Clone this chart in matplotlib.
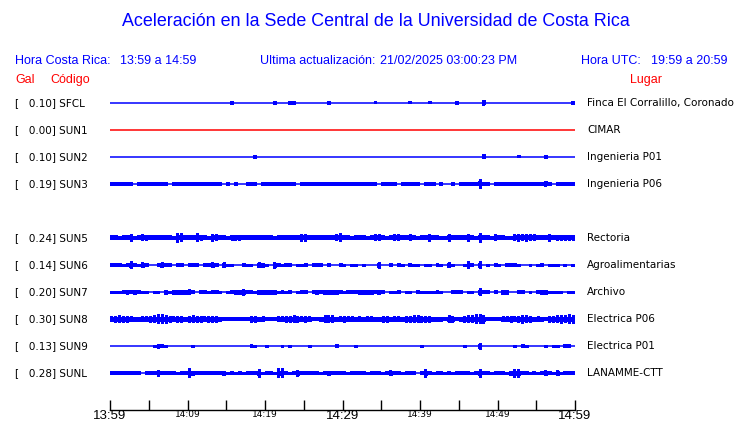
import matplotlib
matplotlib.use('Agg')
import matplotlib.pyplot as plt
import matplotlib.transforms as mtransforms
import numpy as np

# stations, one row each (SUN4 has no trace, its row stays empty)
codes = ['SFCL', 'SUN1', 'SUN2', 'SUN3', 'SUN5', 'SUN6', 'SUN7', 'SUN8', 'SUN9', 'SUNL']
rows = [0, 1, 2, 3, 5, 6, 7, 8, 9, 10]
gal = [0.10, 0.00, 0.10, 0.19, 0.24, 0.14, 0.20, 0.30, 0.13, 0.28]
places = ['Finca El Corralillo, Coronado', 'CIMAR', 'Ingenieria P01', 'Ingenieria P06',
          'Rectoria', 'Agroalimentarias', 'Archivo', 'Electrica P06', 'Electrica P01',
          'LANAMME-CTT']
trace_colors = ['blue', 'red', 'blue', 'blue', 'blue', 'blue', 'blue', 'blue', 'blue', 'blue']

# envelope of each trace: one digit per 30 s, total height in pixels
env_SFCL = ("0000000000" "0000000000" "0000000000" "0300000000" "0030003300" "0000003000"
            "0000000020" "0000000200" "0020000003" "0000005000" "0000000000" "0000000003")
env_SUN1 = ("0000000000" "0000000000" "0000000000" "0000000000" "0000000000" "0000000000"
            "0000000000" "0000000000" "0000000000" "0000000000" "0000000000" "0000000000")
env_SUN2 = ("0000000000" "0000000000" "0000000000" "0000000300" "0000000000" "0000000000"
            "0000000000" "0000000000" "0000000000" "0000004000" "0000020000" "0030000000")
env_SUN3 = ("3333330333" "3333303333" "3333333330" "3030033303" "3333333303" "3333333333"
            "3333333330" "3333033333" "0333030030" "3333393303" "3333333333" "3353033333")
env_SUN5 = ("4434473465" "4444443984" "4485437644" "3555444444" "4434444447" "7444444468"
            "4434443466" "4346644643" "4474433744" "4474394436" "4433676766" "4447455555")
env_SUN6 = ("3332373253" "0035330330" "3330335305" "2200322054" "2063233022" "3033303003"
            "2022020006" "0030320322" "0220320520" "0273070203" "2033320020" "2302220202")
env_SUN7 = ("2223434322" "0220424444" "5303323320" "2344633244" "4442323023" "3034344443"
            "2333444434" "3022302203" "2222320033" "3022073303" "0440033020" "3442222022")
env_SUN8 = ("5676654455" "6799865664" "6766566643" "3333336645" "3335566765" "6533477745"
            "6554545544" "6645546677" "6664443763" "4677998333" "3556568764" "5436678798")
env_SUN9 = ("0000000000" "0243200000" "0200000000" "0000003200" "2000202000" "0200000030"
            "0002000000" "0000000000" "2000000000" "0200060000" "0000203200" "0020220330")
env_SUNL = ("3333333303" "3363333233" "9433333334" "2323233382" "3329932363" "3333234333"
            "3233332333" "2353323330" "3832332323" "3332383323" "3324883323" "2353252333")
envelopes = [env_SFCL, env_SUN1, env_SUN2, env_SUN3, env_SUN5,
             env_SUN6, env_SUN7, env_SUN8, env_SUN9, env_SUNL]

# time axis, minutes after 13:59
tick_min = [0, 5, 10, 15, 20, 25, 30, 35, 40, 45, 50, 55, 60]
tick_labels = ['13:59', '', '14:09', '', '14:19', '', '14:29', '', '14:39', '', '14:49', '', '14:59']

W, H = 740, 423
ROW_PX = 27.0
fig = plt.figure(figsize=(W / 100, H / 100), dpi=100)


def fx(px):
    return px / W


def fy(py):
    return 1 - py / H


# trace panel: rows 0..10 are 27 px apart, first row at y=103, time axis at y=410
top_px, bot_px, row0_px = 90, 410, 103
ax = fig.add_axes([fx(110), fy(bot_px), (575 - 110) / W, (bot_px - top_px) / H])
ax.set_xlim(0, 60)
ax.set_ylim((bot_px - row0_px) / ROW_PX, (top_px - row0_px) / ROW_PX)

for r, env, c in zip(rows, envelopes, trace_colors):
    d = np.array([int(ch) for ch in env], dtype=float)
    edges = np.linspace(0, 60, len(d) + 1)
    centers = (edges[:-1] + edges[1:]) / 2
    # steady band, full bin width
    band = np.where(d > 0, np.minimum(d, 4) + 1, 0) / 2 / ROW_PX
    ax.stairs(r + band, edges, baseline=r - band, fill=True, color=c, lw=0)
    # bursts taller than the band, a bit narrower than a bin
    big = d > 4
    spike = (d[big] + 1) / 2 / ROW_PX
    ax.bar(centers[big], 2 * spike, bottom=r - spike, width=0.4, color=c, lw=0)
    ax.hlines(r, edges[0], edges[-1], color=c, lw=1.1)

for s in ['top', 'left', 'right']:
    ax.spines[s].set_visible(False)
ax.spines['bottom'].set_linewidth(1.0)
ax.set_yticks([])
ax.set_xticks(tick_min)
ax.set_xticklabels(tick_labels)
ax.tick_params(axis='x', direction='in', length=7.5, width=1.0, pad=0)
for lab in ax.get_xticklabels():
    if lab.get_text() in ('13:59', '14:29', '14:59'):
        lab.set_fontsize(9.5)
        lab.set_fontfamily('Liberation Sans')
    else:
        lab.set_fontsize(6.5)
        lab.set_fontfamily('DejaVu Sans')

# row labels, x in figure pixels, y on the trace rows
tr = mtransforms.blended_transform_factory(fig.transFigure, ax.transData)
for r, code, g, place in zip(rows, codes, gal, places):
    ax.text(fx(15), r, '[   %.2f] %s' % (g, code), transform=tr, fontsize=7.5,
            family='DejaVu Sans', va='center', ha='left', clip_on=False)
    ax.text(fx(587), r, place, transform=tr, fontsize=7.5,
            family='DejaVu Sans', va='center', ha='left', clip_on=False)

# header texts
blue = '#0000ff'
red = '#ff0000'
hf = 'Liberation Sans'
fig.text(fx(376), fy(22), 'Aceleración en la Sede Central de la Universidad de Costa Rica',
         ha='center', va='center', color=blue, fontsize=12.9, family=hf)
fig.text(fx(15), fy(61), 'Hora Costa Rica:', va='center', color=blue, fontsize=9, family=hf)
fig.text(fx(120), fy(61), '13:59 a 14:59', va='center', color=blue, fontsize=9, family=hf)
fig.text(fx(260), fy(61), 'Ultima actualización:', va='center', color=blue, fontsize=9, family=hf)
fig.text(fx(380), fy(61), '21/02/2025 03:00:23 PM', va='center', color=blue, fontsize=9, family=hf)
fig.text(fx(581), fy(61), 'Hora UTC:', va='center', color=blue, fontsize=9, family=hf)
fig.text(fx(651), fy(61), '19:59 a 20:59', va='center', color=blue, fontsize=9, family=hf)
fig.text(fx(15), fy(80), 'Gal', va='center', color=red, fontsize=9, family=hf)
fig.text(fx(50), fy(80), 'Código', va='center', color=red, fontsize=9, family=hf)
fig.text(fx(630), fy(80), 'Lugar', va='center', color=red, fontsize=9, family=hf)

fig.savefig('out.png', dpi=100)
